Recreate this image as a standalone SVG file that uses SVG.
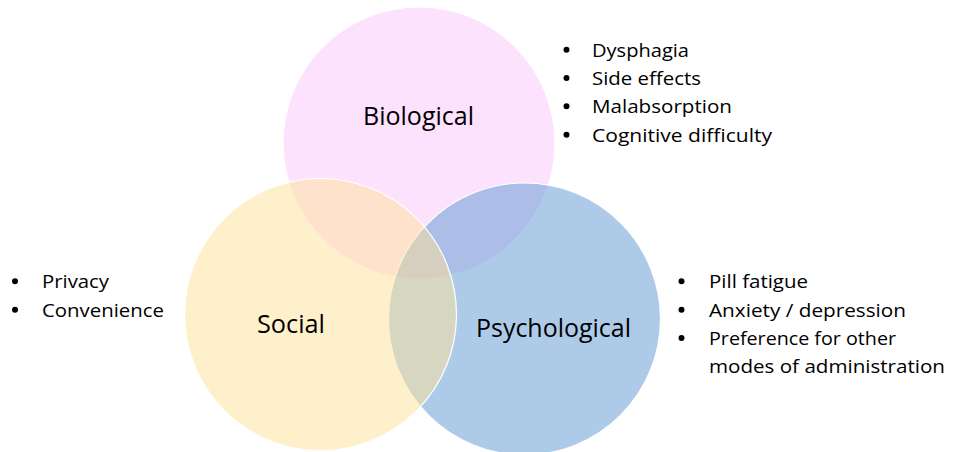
<svg xmlns="http://www.w3.org/2000/svg" width="953" height="452" viewBox="0 0 953 452">
  <style>
    .set { stroke: #ffffff; stroke-width: 1.2; fill-opacity: 0.5; }
    .title { font-family: "Open Sans", "Liberation Sans", sans-serif; font-size: 25px; fill: #000000; }
    .item { font-family: "Open Sans", "Liberation Sans", sans-serif; font-size: 17.5px; fill: #000000; }
    .dot { fill: #000000; }
  </style>
  <rect width="953" height="452" fill="#ffffff"/>

  <!-- Venn sets: drawn in order so the later circles overlay the earlier ones -->
  <g id="biological">
    <circle class="set" cx="419" cy="143" r="136" fill="#fbc5fb"/>
    <text class="title" x="363" y="125" textLength="111" lengthAdjust="spacingAndGlyphs">Biological</text>
  </g>
  <g id="psychological-circle">
    <circle class="set" cx="524.5" cy="319" r="136" fill="#5b97d1"/>
  </g>
  <g id="social">
    <circle class="set" cx="320.5" cy="314.5" r="136" fill="#ffe199"/>
    <text class="title" x="257" y="333" textLength="68" lengthAdjust="spacingAndGlyphs">Social</text>
  </g>
  <g id="psychological">
    <text class="title" x="476" y="337" textLength="155" lengthAdjust="spacingAndGlyphs">Psychological</text>
  </g>

  <!-- Biological factors -->
  <g id="biological-list" class="item">
    <circle class="dot" cx="566.5" cy="49.7" r="3"/>
    <text x="592" y="56.7" textLength="97" lengthAdjust="spacingAndGlyphs">Dysphagia</text>
    <circle class="dot" cx="566.5" cy="78" r="3"/>
    <text x="592" y="85" textLength="109" lengthAdjust="spacingAndGlyphs">Side effects</text>
    <circle class="dot" cx="566.5" cy="106.3" r="3"/>
    <text x="592" y="113.3" textLength="140" lengthAdjust="spacingAndGlyphs">Malabsorption</text>
    <circle class="dot" cx="566.5" cy="134.7" r="3"/>
    <text x="592" y="141.7" textLength="180" lengthAdjust="spacingAndGlyphs">Cognitive difficulty</text>
  </g>

  <!-- Social factors -->
  <g id="social-list" class="item">
    <circle class="dot" cx="15" cy="281.3" r="3"/>
    <text x="42" y="288.3" textLength="67" lengthAdjust="spacingAndGlyphs">Privacy</text>
    <circle class="dot" cx="15" cy="309.7" r="3"/>
    <text x="42" y="316.7" textLength="122" lengthAdjust="spacingAndGlyphs">Convenience</text>
  </g>

  <!-- Psychological factors -->
  <g id="psychological-list" class="item">
    <circle class="dot" cx="681.5" cy="281.3" r="3"/>
    <text x="709" y="288.3" textLength="99" lengthAdjust="spacingAndGlyphs">Pill fatigue</text>
    <circle class="dot" cx="681.5" cy="309.7" r="3"/>
    <text x="709" y="316.7" textLength="197" lengthAdjust="spacingAndGlyphs">Anxiety / depression</text>
    <circle class="dot" cx="681.5" cy="338" r="3"/>
    <text x="709" y="345" textLength="187" lengthAdjust="spacingAndGlyphs">Preference for other</text>
    <text x="709" y="373.3" textLength="236" lengthAdjust="spacingAndGlyphs">modes of administration</text>
  </g>
</svg>
